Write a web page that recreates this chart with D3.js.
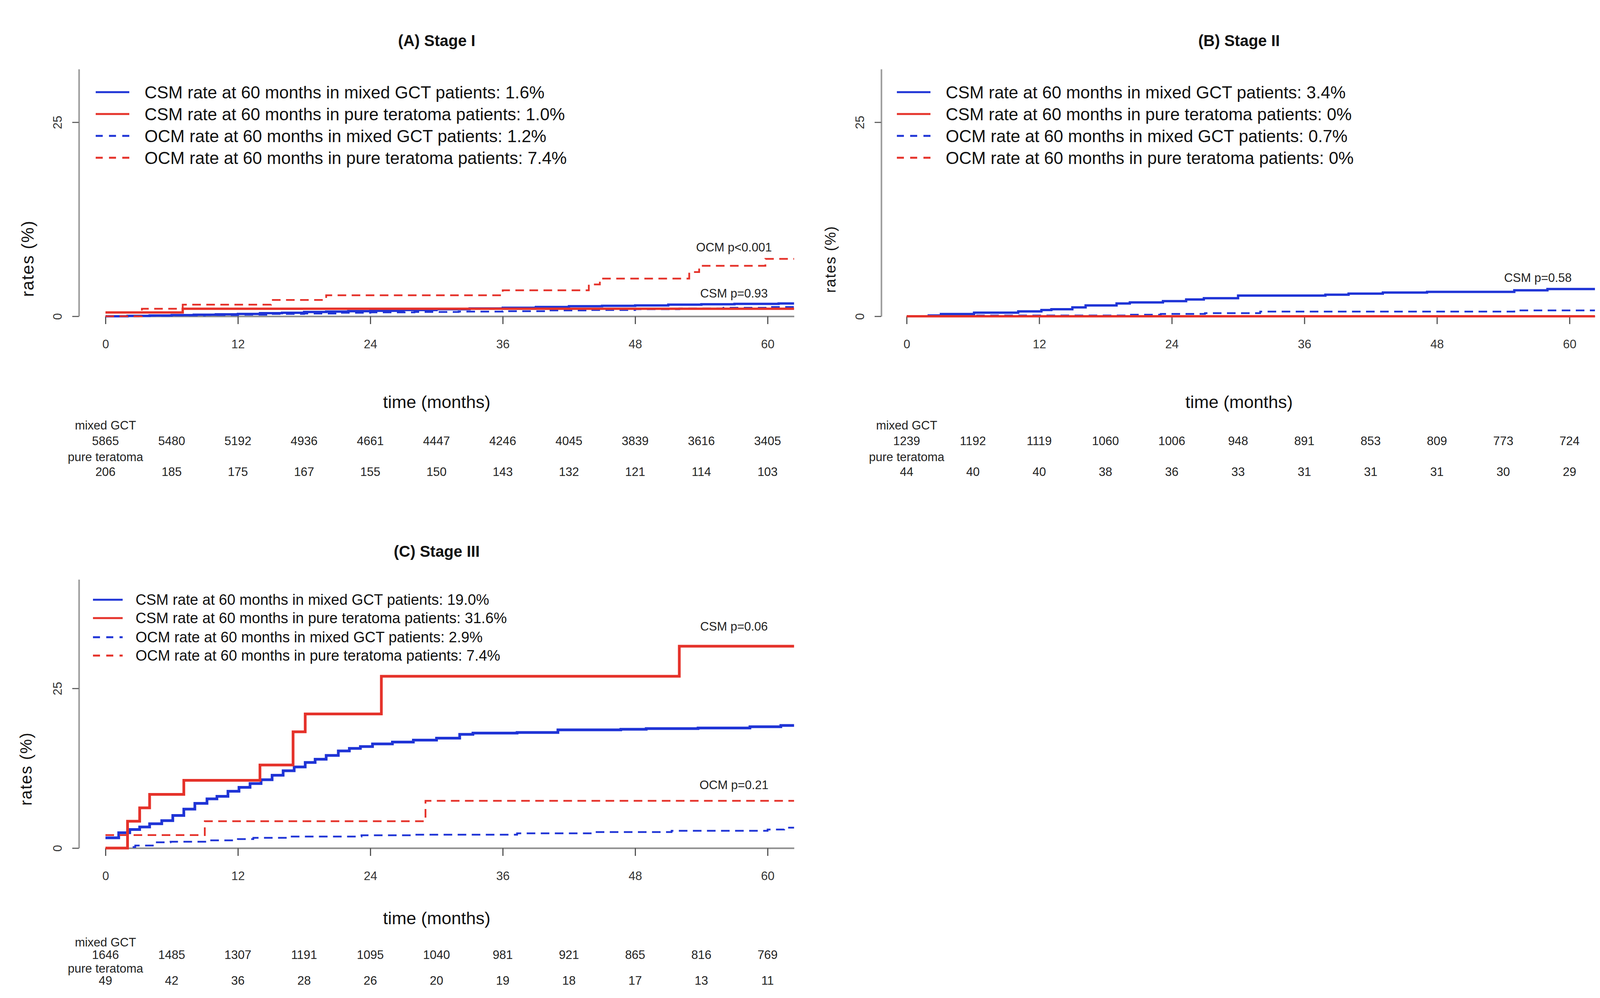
<!DOCTYPE html>
<html>
<head>
<meta charset="utf-8">
<script src="https://cdn.jsdelivr.net/npm/d3@7"></script>
<style>
  body { margin: 0; background: #fff; }
  text { font-family: "Liberation Sans", Arial, sans-serif; }
</style>
</head>
<body>
<svg id="chart" width="4127" height="2556"></svg>
<script>
// ---- data ----
const xTicks = [0, 12, 24, 36, 48, 60];
const riskMonths = [0, 6, 12, 18, 24, 30, 36, 42, 48, 54, 60];

// Stage I  [month, %]
const s1CsmMixed = [[0,0],[2,0.05],[4,0.1],[6,0.15],[8,0.2],[10,0.25],[12,0.3],[14,0.4],[16,0.45],[18,0.55],[20,0.6],[22,0.65],[24,0.7],[27,0.8],[30,0.9],[33,1.0],[36,1.1],[39,1.2],[42,1.3],[45,1.35],[48,1.4],[51,1.5],[54,1.55],[57,1.6],[61,1.65]];
const s1CsmPure = [[0,0.49],[7,0.97]];
const s1OcmMixed = [[0,0],[3,0.05],[6,0.1],[9,0.15],[12,0.2],[15,0.3],[18,0.35],[21,0.45],[24,0.5],[28,0.55],[32,0.6],[36,0.65],[40,0.75],[44,0.8],[48,0.9],[52,1.0],[56,1.1],[60,1.2]];
const s1OcmPure = [[0,0],[3.3,0.97],[7,1.5],[15,2.1],[20,2.7],[36,3.35],[43.8,4.1],[44.8,4.85],[52.9,5.7],[53.8,6.5],[59.8,7.4]];

// Stage II
const s2CsmMixed = [[0,0],[2,0.1],[3.1,0.29],[6.1,0.46],[10.1,0.63],[12.2,0.8],[13.1,0.9],[15,1.14],[16.2,1.39],[19,1.65],[20.2,1.78],[23.2,1.95],[25.3,2.16],[26.9,2.33],[30,2.67],[37.9,2.78],[40,2.92],[43.1,3.06],[47.1,3.14],[55,3.34],[58,3.51]];
const s2CsmPure = [[0,0]];
const s2OcmMixed = [[0,0],[6,0.1],[20,0.2],[23,0.3],[27,0.4],[32,0.6],[55,0.75]];
const s2OcmPure = [[0,0]];

// Stage III
const s3CsmMixed = [[0,1.6],[1.2,2.4],[2.2,2.9],[3.1,3.3],[4,3.8],[5.1,4.3],[6.1,5.1],[7.1,6.1],[8.1,7.0],[9.2,7.7],[10.1,8.1],[11.1,8.9],[12.1,9.5],[13.1,10.1],[14.1,10.7],[15.1,11.4],[16.1,12.1],[17.1,12.7],[18.1,13.4],[19,13.9],[20,14.5],[21.1,15.2],[22.1,15.6],[23.1,15.9],[24.2,16.3],[26,16.6],[27.9,16.9],[30,17.2],[32.1,17.8],[33.3,18.0],[37.3,18.1],[41,18.5],[46.7,18.6],[49,18.7],[53.7,18.8],[58.4,19.0],[61.2,19.2]];
const s3CsmPure = [[0,0],[2,4.2],[3.1,6.3],[4,8.4],[7.1,10.6],[14,13.0],[17,18.2],[18.1,21.0],[25,26.9],[52,31.6]];
const s3OcmMixed = [[0,0],[2.2,0.15],[2.7,0.4],[4.5,0.9],[5.9,1.0],[9.2,1.2],[12,1.4],[13.4,1.6],[16.7,1.8],[23.2,2.0],[27.9,2.1],[37.3,2.3],[44.3,2.5],[51.3,2.7],[60,2.9],[61.5,3.2]];
const s3OcmPure = [[0,2.04],[9,4.2],[29,7.4]];

const s1Mixed = [5865, 5480, 5192, 4936, 4661, 4447, 4246, 4045, 3839, 3616, 3405];
const s1Pure = [206, 185, 175, 167, 155, 150, 143, 132, 121, 114, 103];
const s2Mixed = [1239, 1192, 1119, 1060, 1006, 948, 891, 853, 809, 773, 724];
const s2Pure = [44, 40, 40, 38, 36, 33, 31, 31, 31, 30, 29];
const s3Mixed = [1646, 1485, 1307, 1191, 1095, 1040, 981, 921, 865, 816, 769];
const s3Pure = [49, 42, 36, 28, 26, 20, 19, 18, 17, 13, 11];

// legend values, in legend order: CSM mixed, CSM pure, OCM mixed, OCM pure
const s1Legend = ['1.6%', '1.0%', '1.2%', '7.4%'];
const s2Legend = ['3.4%', '0%', '0.7%', '0%'];
const s3Legend = ['19.0%', '31.6%', '2.9%', '7.4%'];
const legendPrefix = [
  'CSM rate at 60 months in mixed GCT patients: ',
  'CSM rate at 60 months in pure teratoma patients: ',
  'OCM rate at 60 months in mixed GCT patients: ',
  'OCM rate at 60 months in pure teratoma patients: '
];

const BLUE = '#1f34d6', RED = '#e5322a';
const svg = d3.select('#chart');

// layout per panel (pixel positions only)
const panels = [
  { title: '(A) Stage I', series: [s1CsmMixed, s1OcmMixed, s1CsmPure, s1OcmPure], legend: s1Legend,
    mixed: s1Mixed, pure: s1Pure,
    x0: 270, x60: 1965, xMax: 62.4, axisX: 202, y0: 810, y25: 313, yTop: 177,
    titleY: 104, xLabY: 1029, riskY: [1089, 1129, 1170, 1208], yLab: [70, 662, 44], titleX: 1118,
    leg: { x1: 245, x2: 331, tx: 370, rows: [236, 292, 348, 404], fs: 44 },
    notes: [['OCM p<0.001', 1879, 633], ['CSM p=0.93', 1879, 751]], lw: 6, dlw: 4.5 },
  { title: '(B) Stage II', series: [s2CsmMixed, s2OcmMixed, s2CsmPure, s2OcmPure], legend: s2Legend,
    mixed: s2Mixed, pure: s2Pure,
    x0: 2321, x60: 4018, xMax: 62.3, axisX: 2256, y0: 810, y25: 313, yTop: 177,
    titleY: 104, xLabY: 1029, riskY: [1089, 1129, 1170, 1208], yLab: [2126, 664, 38], titleX: 3172,
    leg: { x1: 2296, x2: 2382, tx: 2421, rows: [236, 292, 348, 404], fs: 44 },
    notes: [['CSM p=0.58', 3937, 711]], lw: 6, dlw: 4.5 },
  { title: '(C) Stage III', series: [s3CsmMixed, s3OcmMixed, s3CsmPure, s3OcmPure], legend: s3Legend,
    mixed: s3Mixed, pure: s3Pure,
    x0: 270, x60: 1965, xMax: 62.4, axisX: 202, y0: 2172, y25: 1763, yTop: 1484,
    titleY: 1412, xLabY: 2351, riskY: [2413, 2445, 2480, 2511], yLab: [66, 1969, 42], titleX: 1118,
    leg: { x1: 238, x2: 314, tx: 347, rows: [1536, 1583, 1632, 1679], fs: 38 },
    notes: [['CSM p=0.06', 1879, 1604], ['OCM p=0.21', 1879, 2010]], lw: 7, dlw: 4.5 }
];

// curve styles follow series order: CSM mixed, OCM mixed, CSM pure, OCM pure
const colors = [BLUE, BLUE, RED, RED];
const dashed = [false, true, false, true];
// legend styles follow legend order: CSM mixed, CSM pure, OCM mixed, OCM pure
const legColors = [BLUE, RED, BLUE, RED];
const legDashed = [false, false, true, true];

panels.forEach(p => {
  const g = svg.append('g');
  const x = d3.scaleLinear().domain([0, p.xMax])
    .range([p.x0, p.x0 + (p.x60 - p.x0) * p.xMax / 60]);
  const y = d3.scaleLinear().domain([0, 25]).range([p.y0, p.y25]);
  y.domain([0, y.invert(p.yTop)]).range([p.y0, p.yTop]);

  // title
  g.append('text').attr('x', p.titleX).attr('y', p.titleY)
    .attr('text-anchor', 'middle').attr('dominant-baseline', 'central')
    .attr('font-size', 40).attr('font-weight', 'bold').attr('fill', '#111')
    .text(p.title);

  // x axis
  const xa = g.append('g').attr('transform', `translate(0,${p.y0})`)
    .call(d3.axisBottom(x).tickValues(xTicks).tickSize(20).tickSizeOuter(0).tickPadding(40));
  xa.select('.domain').attr('stroke', '#8c8c8c').attr('stroke-width', 4);
  xa.selectAll('.tick line').attr('stroke', '#555').attr('stroke-width', 3);
  xa.selectAll('.tick text').attr('font-size', 31).attr('fill', '#333')
    .attr('font-family', '"Liberation Sans", Arial, sans-serif');

  // y axis
  const ya = g.append('g').attr('transform', `translate(${p.axisX},0)`)
    .call(d3.axisLeft(y).tickValues([0, 25]).tickSize(17).tickSizeOuter(0));
  ya.select('.domain').attr('stroke', '#9a9a9a').attr('stroke-width', 4);
  ya.selectAll('.tick line').attr('stroke', '#666').attr('stroke-width', 3);
  ya.selectAll('.tick text').attr('x', null).attr('dy', null)
    .attr('transform', 'translate(-55,0) rotate(-90)')
    .attr('text-anchor', 'middle').attr('dominant-baseline', 'central')
    .attr('font-size', 31).attr('fill', '#333')
    .attr('font-family', '"Liberation Sans", Arial, sans-serif');

  // axis labels
  g.append('text').attr('x', p.titleX).attr('y', p.xLabY)
    .attr('text-anchor', 'middle').attr('dominant-baseline', 'central')
    .attr('font-size', 45).attr('fill', '#111').text('time (months)');
  g.append('text')
    .attr('transform', `translate(${p.yLab[0]},${p.yLab[1]}) rotate(-90)`)
    .attr('text-anchor', 'middle').attr('dominant-baseline', 'central')
    .attr('font-size', p.yLab[2]).attr('letter-spacing', 2).attr('fill', '#111').text('rates (%)');

  // curves
  const line = d3.line().x(d => x(d[0])).y(d => y(d[1])).curve(d3.curveStepAfter);
  p.series.forEach((s, i) => {
    const pts = s.concat([[p.xMax, s[s.length - 1][1]]]);
    g.append('path').datum(pts).attr('d', line)
      .attr('fill', 'none').attr('stroke', colors[i])
      .attr('stroke-width', dashed[i] ? p.dlw : p.lw)
      .attr('stroke-dasharray', dashed[i] ? '22,14' : null);
  });

  // legend
  p.legend.forEach((v, i) => {
    const ry = p.leg.rows[i];
    g.append('line').attr('x1', p.leg.x1).attr('x2', p.leg.x2).attr('y1', ry).attr('y2', ry)
      .attr('stroke', legColors[i]).attr('stroke-width', 5)
      .attr('stroke-dasharray', legDashed[i] ? '18,16' : null);
    g.append('text').attr('x', p.leg.tx).attr('y', ry)
      .attr('dominant-baseline', 'central').attr('font-size', p.leg.fs).attr('fill', '#111')
      .text(legendPrefix[i] + v);
  });

  // p-value notes
  p.notes.forEach(n => {
    g.append('text').attr('x', n[1]).attr('y', n[2])
      .attr('text-anchor', 'middle').attr('dominant-baseline', 'central')
      .attr('font-size', 31).attr('fill', '#222').text(n[0]);
  });

  // number at risk
  const risk = g.append('g').attr('font-size', 31).attr('fill', '#222').attr('text-anchor', 'middle');
  risk.append('text').attr('x', x(0)).attr('y', p.riskY[0]).attr('dominant-baseline', 'central').text('mixed GCT');
  risk.append('text').attr('x', x(0)).attr('y', p.riskY[2]).attr('dominant-baseline', 'central').text('pure teratoma');
  risk.selectAll('.m').data(p.mixed).enter().append('text')
    .attr('x', (d, i) => x(riskMonths[i])).attr('y', p.riskY[1])
    .attr('dominant-baseline', 'central').text(d => d);
  risk.selectAll('.p').data(p.pure).enter().append('text')
    .attr('x', (d, i) => x(riskMonths[i])).attr('y', p.riskY[3])
    .attr('dominant-baseline', 'central').text(d => d);
});
</script>
</body>
</html>
